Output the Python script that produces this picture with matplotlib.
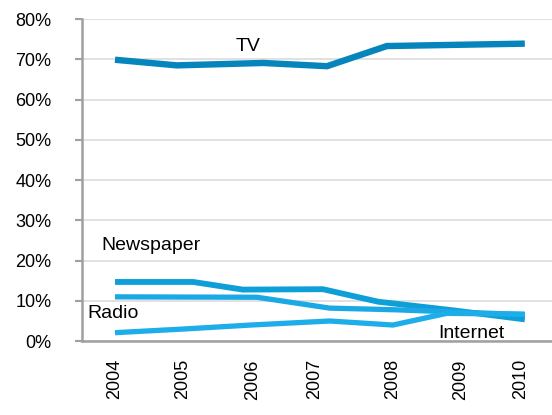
import matplotlib
matplotlib.use("Agg")
import matplotlib.pyplot as plt
from matplotlib.ticker import FuncFormatter

plt.rcParams["font.family"] = ["Liberation Sans", "DejaVu Sans"]

# survey dates in fractional years, one set per medium
tv_x = [2004.0, 2004.91, 2006.18, 2007.12, 2008.0, 2009.0, 2010.03]
tv_y = [69.9, 68.5, 69.1, 68.3, 73.3, 73.6, 73.9]

news_x = [2004.0, 2005.15, 2005.88, 2007.06, 2007.87, 2009.0, 2010.03]
news_y = [14.7, 14.7, 12.8, 12.9, 9.8, 7.6, 5.4]

radio_x = [2004.0, 2006.09, 2007.16, 2008.1, 2010.03]
radio_y = [11.0, 10.9, 8.2, 7.8, 6.6]

net_x = [2004.0, 2005.0, 2006.0, 2007.16, 2008.09, 2008.88, 2010.03]
net_y = [2.1, 3.0, 4.0, 5.0, 4.0, 6.9, 6.7]

year_ticks = [2004.0, 2005.0, 2006.03, 2006.94, 2008.09, 2009.09, 2009.97]
year_labels = ["2004", "2005", "2006", "2007", "2008", "2009", "2010"]

fig = plt.figure(figsize=(5.52, 4.15), dpi=100)
ax = fig.add_axes([0.1486, 0.178, 0.8514, 0.776])

ax.plot(news_x, news_y, color="#0e9fd8", lw=4.2, solid_joinstyle="miter", solid_capstyle="butt")
ax.plot(radio_x, radio_y, color="#1aa9e4", lw=3.8, solid_joinstyle="miter", solid_capstyle="butt")
ax.plot(net_x, net_y, color="#1dade8", lw=3.8, solid_joinstyle="miter", solid_capstyle="butt")
ax.plot(tv_x, tv_y, color="#0585bb", lw=4.6, solid_joinstyle="miter", solid_capstyle="butt")

ax.set_xlim(2003.515, 2010.43)
ax.set_ylim(0, 80)
ax.set_yticks(range(0, 81, 10))
ax.yaxis.set_major_formatter(FuncFormatter(lambda v, _: f"{v:.0f}%"))
ax.set_xticks(year_ticks)
ax.set_xticklabels(year_labels, rotation=90)

ax.grid(axis="y", color="#dcdcdc", lw=1.2)
ax.set_axisbelow(True)
for side in ("top", "right"):
    ax.spines[side].set_visible(False)
for side in ("left", "bottom"):
    ax.spines[side].set_color("#a0a0a0")
    ax.spines[side].set_linewidth(1.8)

ax.tick_params(axis="y", length=5, width=1.5, color="#a0a0a0", pad=17, labelsize=13)
ax.tick_params(axis="x", length=0, pad=13, labelsize=13)

# series names written next to the lines
ax.text(2005.96, 73.3, "TV", fontsize=14, ha="center", va="center")
ax.text(2004.53, 23.8, "Newspaper", fontsize=14, ha="center", va="center")
ax.text(2003.59, 6.9, "Radio", fontsize=14, ha="left", va="center")
ax.text(2009.25, 2.0, "Internet", fontsize=14, ha="center", va="center")

fig.savefig("out.png", dpi=100)
